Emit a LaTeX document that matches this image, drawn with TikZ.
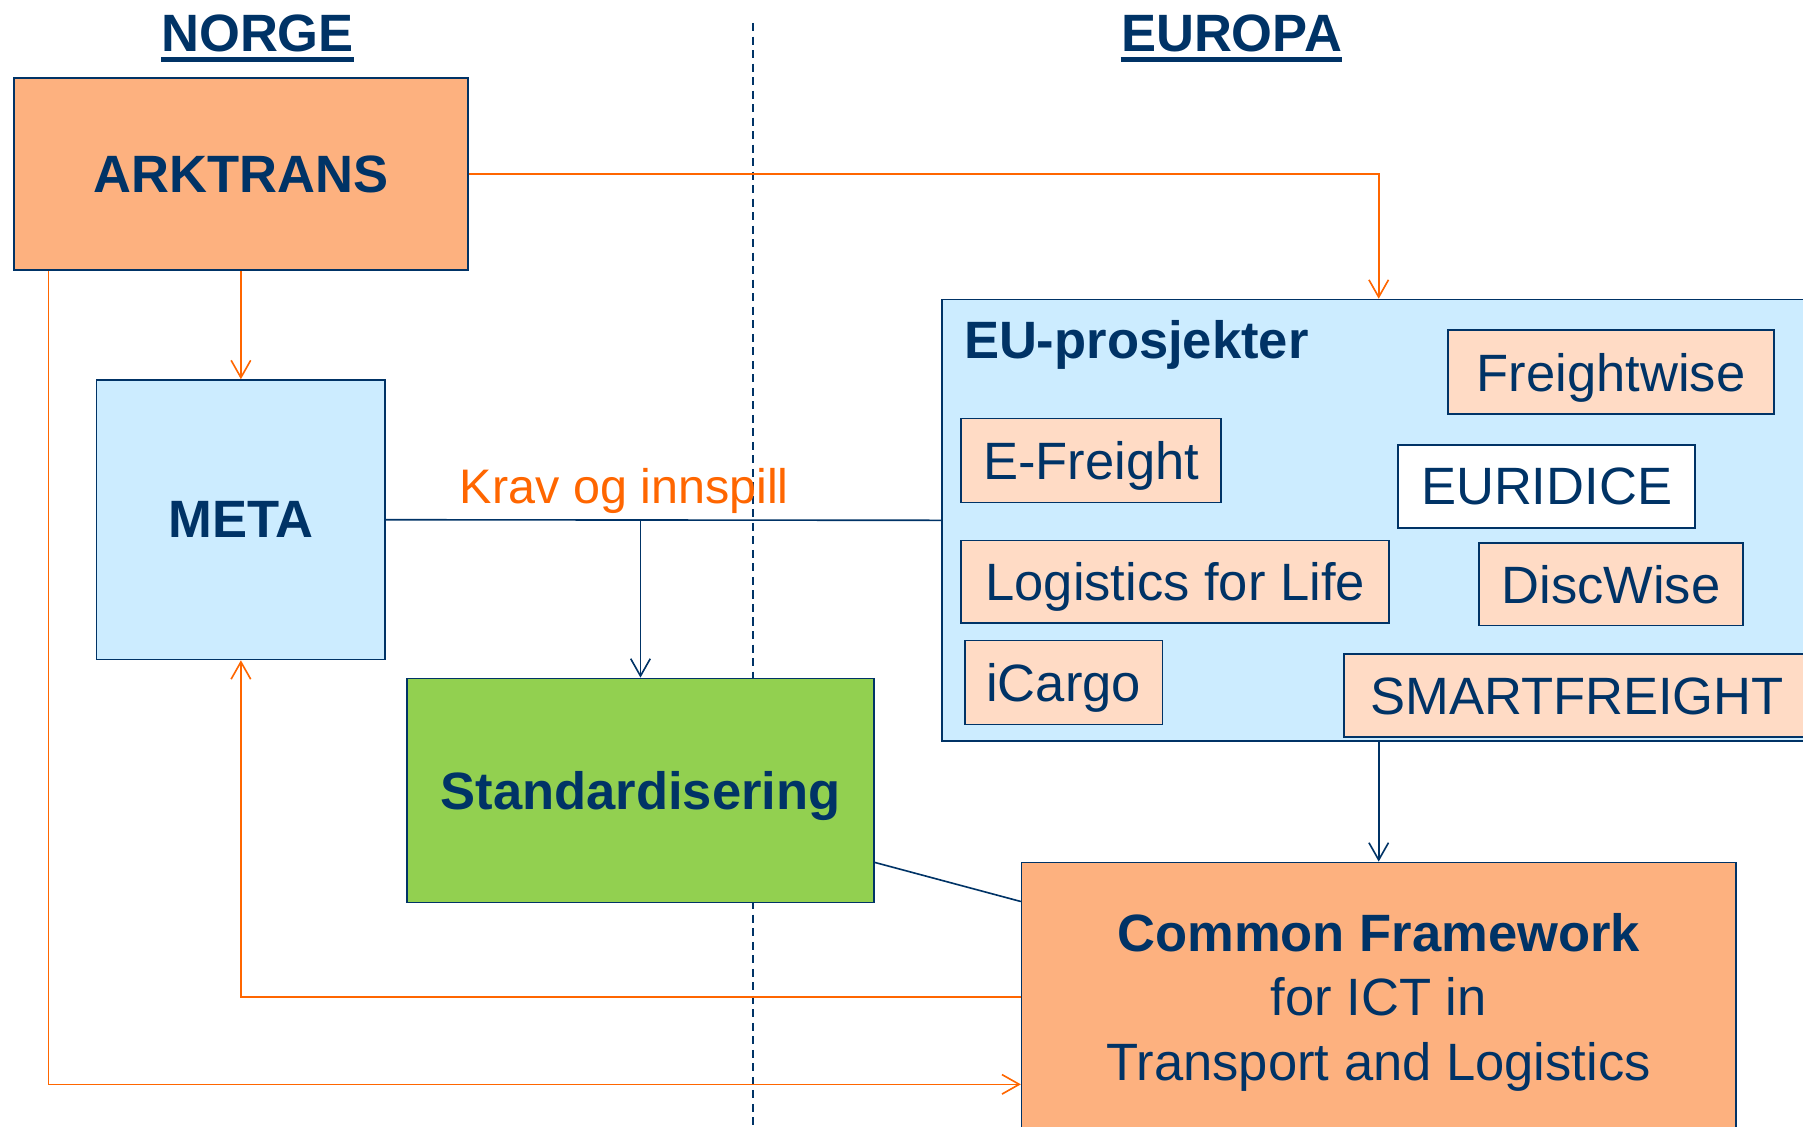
\documentclass[tikz,border=0pt]{standalone}
\usepackage{fontspec}
\setmainfont{Liberation Sans}
\usetikzlibrary{arrows.meta}
\definecolor{navy}{HTML}{003366}
\definecolor{orangeline}{HTML}{FF6600}
\definecolor{orangebox}{HTML}{FDB17F}
\definecolor{peach}{HTML}{FFDBC5}
\definecolor{skyblue}{HTML}{CCECFF}
\definecolor{leafgreen}{HTML}{92D050}

\begin{document}
\begin{tikzpicture}[x=0.2mm, y=-0.2mm,
    >={Straight Barb[length=3mm,width=3.4mm]},
    box/.style={draw=navy, line width=0.8pt, text=navy, align=center, inner sep=0pt,
      text depth=0pt, font=\fontsize{26}{32}\selectfont\bfseries},
    project/.style={draw=navy, line width=0.8pt, fill=peach, text=navy, inner sep=0pt,
      text depth=0pt, minimum height=14.6mm, font=\fontsize{26}{32}\selectfont},
    head/.style={text=navy, inner sep=0pt, font=\fontsize{26}{32}\selectfont\bfseries},
    flow/.style={draw=orangeline, line width=0.8pt, ->},
    link/.style={draw=navy, line width=0.8pt}]
    \useasboundingbox (0,0) rectangle (1568,980);

    % Norway / Europe divider
    \draw[navy, line width=0.8pt, dash pattern=on 1.4mm off 0.95mm] (655,20) -- (655,980);

    \node[head] (norge) at (224,29) {NORGE};
    \node[head] (europa) at (1071,29) {EUROPA};
    \draw[navy, line width=0.8mm] ([yshift=-1.4mm]norge.base west) -- ([yshift=-1.4mm]norge.base east);
    \draw[navy, line width=0.8mm] ([yshift=-1.4mm]europa.base west) -- ([yshift=-1.4mm]europa.base east);

    \node[box, fill=orangebox, minimum width=79mm, minimum height=33.4mm] (arktrans) at (209.5,151.5) {ARKTRANS};
    \node[box, fill=skyblue, minimum width=50.2mm, minimum height=48.6mm] (meta) at (209.5,452) {META};
    \node[box, fill=leafgreen, minimum width=81.2mm, minimum height=39mm] (std) at (557,687.5) {Standardisering};

    % EU projects
    \node[box, fill=skyblue, minimum width=152mm, minimum height=76.8mm] (eu) at (1199,452.5) {};
    \node[head, anchor=west] (eulabel) at (838,300) {EU-prosjekter};
    \node[project, minimum width=56.8mm] (freightwise) at (1401,323.5) {Freightwise};
    \node[project, minimum width=45.2mm] (efreight) at (949,400.5) {E-Freight};
    \node[project, fill=white, minimum width=51.6mm, minimum height=14.4mm] (euridice) at (1345,423) {EURIDICE};
    \node[project, minimum width=74.4mm, minimum height=14.4mm] (lfl) at (1022,506) {Logistics for Life};
    \node[project, minimum width=46mm, minimum height=14.4mm] (discwise) at (1401,508) {DiscWise};
    \node[project, minimum width=34.4mm] (icargo) at (925,593.5) {iCargo};
    \node[project, minimum width=81mm, minimum height=14.4mm] (smartfreight) at (1371.5,605) {SMARTFREIGHT};

    \node[box, fill=orangebox, minimum width=124.2mm, minimum height=46.8mm,
      font=\fontsize{26}{32}\selectfont] (cf) at (1199,867)
      {\textbf{Common Framework}\\for ICT in\\Transport and Logistics};

    \node[text=orangeline, anchor=base, font=\fontsize{24}{29}\selectfont] (krav) at (543,438) {Krav og innspill};

    % connectors
    \draw[flow] (arktrans.east) -| (eu.north);
    \draw[flow] (arktrans.south) -- (meta.north);
    \draw[flow] ([xshift=6.2mm]arktrans.south west) |- ([yshift=-15.2mm]cf.west);
    \draw[flow] (cf.west) -| (meta.south);
    \draw[link] (meta.east) -- (eu.west);
    \coordinate (split) at (std.north |- meta.east);
    \draw[link, ->] (split) -- (std.north);
    \draw[link, ->] (eu.south) -- (cf.north);
    \draw[link] ([yshift=-12.5mm]std.east) -- ([yshift=16.6mm]cf.west);
\end{tikzpicture}
\end{document}
